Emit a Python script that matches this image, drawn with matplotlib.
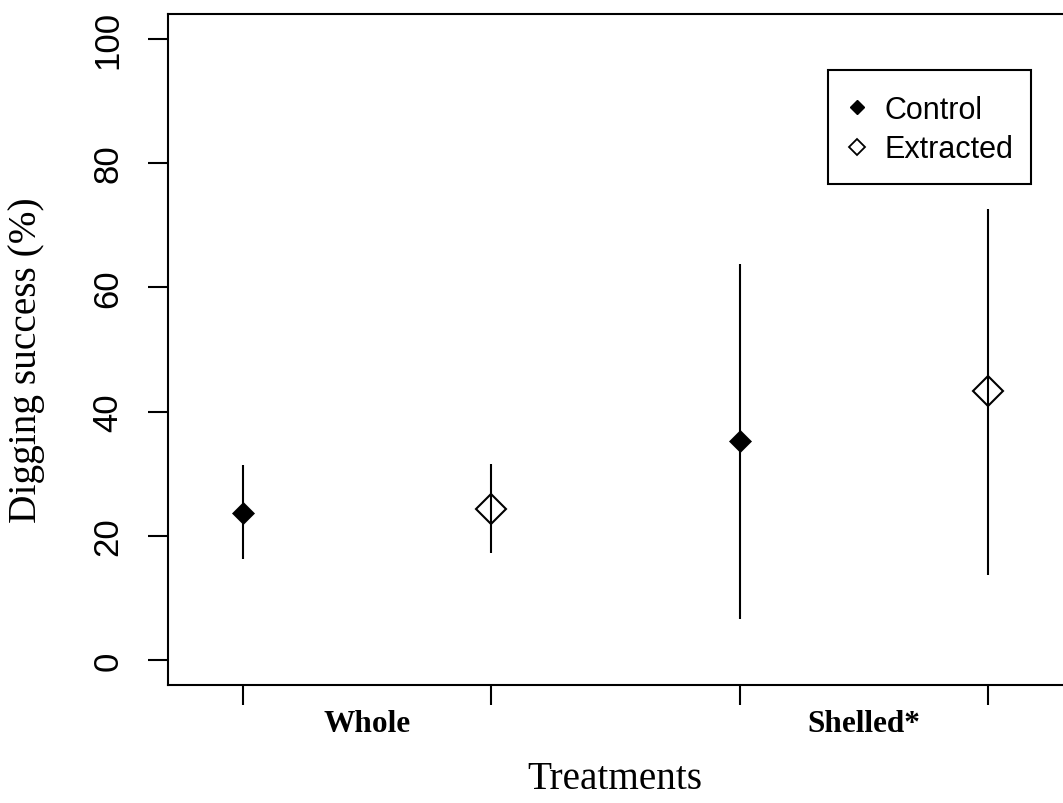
import matplotlib
matplotlib.use('Agg')
import matplotlib.pyplot as plt
from matplotlib.lines import Line2D
from matplotlib.patches import Rectangle

# values (percent)
positions = [1, 2, 3, 4]
group_labels = ['Whole', 'Shelled*']
group_centres = [1.5, 3.5]

control_x = [1, 3]
control_mean = [23.7, 35.3]
control_low = [16.3, 6.6]
control_high = [31.4, 63.8]

extracted_x = [2, 4]
extracted_mean = [24.4, 43.3]
extracted_low = [17.3, 13.7]
extracted_high = [31.6, 72.6]

yticks = [0, 20, 40, 60, 80, 100]


def main():
    W, H = 1063, 804
    fig = plt.figure(figsize=(W / 100, H / 100), dpi=100)
    ax = fig.add_axes([168 / W, 1 - 686 / H, 895 / W, 671 / H])

    lw = 1.5
    ax.vlines(control_x, control_low, control_high, color='black', lw=lw, zorder=2)
    ax.vlines(extracted_x, extracted_low, extracted_high, color='black', lw=lw, zorder=2)
    ax.plot(control_x, control_mean, ls='none', marker='D', ms=11.7,
            mfc='black', mec='black', mew=0.5, zorder=3)
    ax.plot(extracted_x, extracted_mean, ls='none', marker='D', ms=15,
            mfc='none', mec='black', mew=1.5, zorder=3)

    ax.set_xlim(0.7, 4.3)
    ax.set_ylim(-4, 104)

    for side in ['left', 'bottom', 'top']:
        ax.spines[side].set_linewidth(1.5)
    ax.spines['right'].set_visible(False)

    # y axis: R style rotated numbers
    ax.set_yticks(yticks)
    ax.set_yticklabels([str(v) for v in yticks], family='Liberation Sans',
                       fontsize=25, rotation=90, va='center')
    ax.tick_params(axis='y', length=14.4, width=1.5, pad=17)

    # x axis: ticks at each point, group names between them
    ax.set_xticks(positions)
    ax.set_xticklabels([''] * len(positions))
    ax.tick_params(axis='x', which='major', length=14.4, width=1.5)
    ax.set_xticks(group_centres, minor=True)
    ax.set_xticklabels(group_labels, minor=True, family='Liberation Serif',
                       fontweight='bold', fontsize=22.5)
    ax.tick_params(axis='x', which='minor', length=0, pad=17.5)

    fig.text(27 / W, 1 - 360 / H, 'Digging success (%)', rotation=90,
             ha='center', va='center', family='Liberation Serif', fontsize=28.3)
    fig.text(615 / W, 1 - 780 / H, 'Treatments', ha='center', va='center',
             family='Liberation Serif', fontsize=28.3)

    # legend: entries without frame, R-style box drawn separately
    handles = [
        Line2D([], [], ls='none', marker='D', ms=7.1, mfc='black', mec='black'),
        Line2D([], [], ls='none', marker='D', ms=8.2, mfc='none', mec='black', mew=1.3),
    ]
    ax.legend(handles, ['Control', 'Extracted'], loc='center left',
              bbox_to_anchor=(844 / W, 1 - 130.5 / H),
              bbox_transform=fig.transFigure,
              prop={'family': 'Liberation Sans', 'size': 22},
              frameon=False, borderpad=0, handlelength=0.85,
              handletextpad=0.49, labelspacing=0.31, borderaxespad=0)
    fig.add_artist(Rectangle((828 / W, 1 - 185 / H), 203 / W, 114 / H,
                             transform=fig.transFigure, fill=False,
                             edgecolor='black', lw=1.5))

    fig.savefig('out.png', dpi=100)


if __name__ == '__main__':
    main()
